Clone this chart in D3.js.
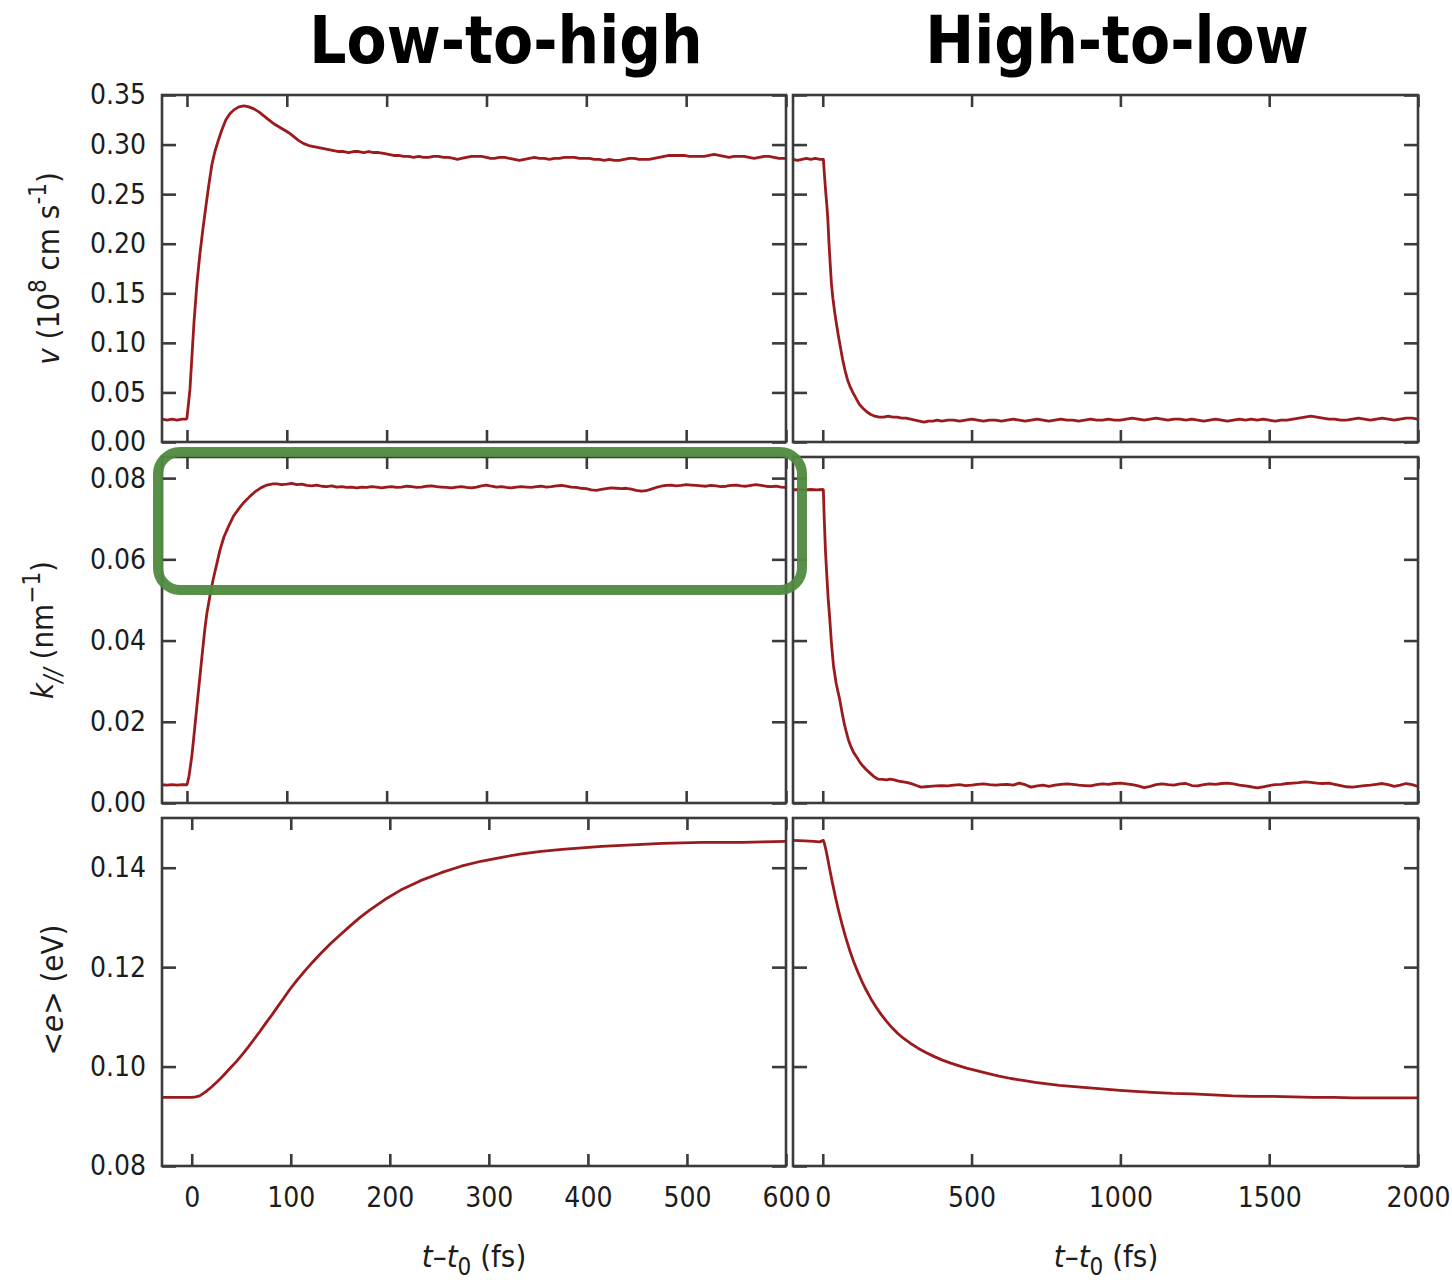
<!DOCTYPE html>
<html>
<head>
<meta charset="utf-8">
<script src="https://cdn.jsdelivr.net/npm/d3@7"></script>
<style>
  html, body { margin: 0; padding: 0; background: #ffffff; }
  svg { display: block; }
  .tick text { font-family: "DejaVu Sans Condensed", "DejaVu Sans", sans-serif; font-stretch: condensed; font-size: 28px; fill: #1c1c1c; }
  .lbl { font-family: "DejaVu Sans Condensed", "DejaVu Sans", sans-serif; font-stretch: condensed; font-size: 31px; fill: #1c1c1c; }
  .ttl { font-family: "DejaVu Sans Condensed", "DejaVu Sans", sans-serif; font-stretch: condensed; font-weight: bold; font-size: 65px; fill: #000; }
</style>
</head>
<body>
<svg id="chart" width="1452" height="1280"></svg>
<script>
// ---------- data: [t (fs), value] ----------
// drift velocity v (10^8 cm/s), field switched low -> high
const vLowHigh = [
  [-25,.023],[-20,.022],[-15,.023],[-10,.022],[-5,.023],[-1,.023],[0,.024],[3,.053],[7,.120],[10,.160],
  [13,.190],[16,.215],[19,.238],[22,.260],[25,.280],[28,.293],[31,.303],[35,.315],[39,.325],[43,.331],
  [47,.335],[52,.338],[57,.339],[62,.338],[67,.336],[72,.333],[77,.329],[82,.325],[87,.321],[92,.318],
  [97,.315],[102,.312],[107,.308],[112,.304],[117,.301],[122,.299],[127,.298],[132,.297],[137,.296],[142,.295],
  [147,.294],[152,.293],[157,.293],[162,.292],[167,.293],[172,.293],[177,.292],[182,.293],[187,.292],[192,.292],
  [197,.291],[202,.290],[207,.289],[212,.289],[217,.288],[222,.288],[227,.287],[232,.288],[237,.287],[242,.287],
  [247,.288],[252,.288],[257,.287],[262,.287],[267,.286],[271,.285],[275,.286],[280,.287],[285,.288],[290,.288],
  [295,.288],[300,.287],[304,.286],[308,.286],[313,.287],[318,.287],[323,.286],[328,.285],[333,.284],[338,.285],
  [343,.286],[348,.287],[353,.286],[358,.286],[363,.285],[368,.286],[373,.286],[378,.287],[383,.287],[388,.287],
  [393,.286],[398,.286],[403,.286],[408,.285],[413,.285],[418,.284],[423,.285],[428,.284],[433,.284],[438,.285],
  [443,.286],[448,.286],[453,.285],[458,.285],[463,.285],[468,.286],[473,.287],[478,.288],[483,.289],[488,.289],
  [493,.289],[498,.289],[503,.288],[508,.288],[513,.288],[518,.288],[523,.289],[528,.290],[533,.289],[538,.288],
  [543,.287],[548,.288],[553,.288],[558,.288],[563,.287],[568,.286],[573,.287],[578,.288],[583,.288],[588,.287],
  [593,.286],[597,.286],[600,.286]
];

// drift velocity v, field switched high -> low
const vHighLow = [
  [-100,.285],[-85,.284],[-70,.285],[-55,.286],[-40,.285],[-25,.286],[-10,.285],[2,.285],[6,.268],[10,.252],
  [14,.238],[17,.225],[21,.200],[25,.180],[29,.160],[34,.145],[40,.131],[45,.121],[52,.108],[59,.096],
  [67,.083],[75,.072],[84,.062],[93,.055],[101,.050],[112,.044],[123,.038],[135,.034],[146,.031],[160,.028],
  [175,.026],[190,.025],[205,.025],[220,.026],[235,.025],[250,.025],[265,.024],[280,.024],[295,.023],[310,.022],
  [325,.021],[340,.020],[355,.021],[370,.021],[385,.022],[400,.021],[420,.022],[440,.022],[460,.021],[480,.022],
  [500,.023],[520,.022],[540,.021],[560,.022],[580,.022],[600,.021],[620,.022],[640,.023],[660,.022],[680,.021],
  [700,.022],[720,.023],[740,.022],[760,.021],[780,.022],[800,.023],[820,.022],[840,.022],[860,.021],[880,.022],
  [900,.023],[920,.022],[940,.022],[960,.023],[980,.022],[1000,.022],[1020,.023],[1040,.024],[1060,.023],[1080,.022],
  [1100,.023],[1120,.024],[1140,.023],[1160,.022],[1180,.023],[1200,.023],[1220,.022],[1240,.023],[1260,.022],[1280,.021],
  [1300,.022],[1320,.023],[1340,.022],[1360,.021],[1380,.022],[1400,.023],[1420,.022],[1440,.023],[1460,.022],[1480,.023],
  [1500,.022],[1520,.021],[1540,.022],[1560,.022],[1580,.023],[1600,.024],[1620,.025],[1640,.026],[1660,.025],[1680,.024],
  [1700,.023],[1720,.023],[1740,.022],[1760,.022],[1780,.023],[1800,.024],[1820,.023],[1840,.022],[1860,.023],[1880,.024],
  [1900,.023],[1920,.022],[1940,.023],[1960,.024],[1980,.024],[2000,.023]
];

// mean parallel wave vector k// (1/nm), low -> high
const kLowHigh = [
  [-25,.0045],[-20,.0044],[-15,.0045],[-10,.0044],[-5,.0045],[0,.0045],[2,.0065],[5,.0118],[8,.0190],[10,.0240],
  [13,.0312],[15,.0360],[18,.0430],[20,.0468],[23,.0510],[26,.0548],[30,.0590],[33,.0622],[37,.0655],[42,.0683],
  [47,.0708],[52,.0725],[57,.0740],[63,.0755],[68,.0766],[74,.0776],[80,.0783],[86,.0786],[90,.0786],[95,.0784],
  [100,.0785],[105,.0787],[110,.0784],[115,.0785],[120,.0782],[125,.0781],[130,.0783],[135,.0780],[140,.0779],[145,.0781],
  [150,.0778],[155,.0779],[160,.0777],[165,.0778],[170,.0776],[175,.0778],[180,.0777],[185,.0779],[190,.0778],[195,.0776],
  [200,.0778],[205,.0779],[210,.0777],[215,.0778],[220,.0780],[225,.0779],[230,.0777],[235,.0778],[240,.0780],[245,.0781],
  [250,.0779],[255,.0778],[260,.0777],[265,.0776],[270,.0778],[275,.0779],[280,.0777],[285,.0776],[290,.0778],[295,.0781],
  [300,.0783],[305,.0780],[310,.0778],[315,.0779],[320,.0777],[325,.0776],[330,.0778],[335,.0779],[340,.0778],[345,.0777],
  [350,.0779],[355,.0780],[360,.0778],[365,.0779],[370,.0781],[375,.0782],[380,.0780],[385,.0778],[390,.0777],[395,.0775],
  [400,.0774],[405,.0771],[410,.0770],[415,.0772],[420,.0774],[425,.0776],[430,.0775],[435,.0774],[440,.0775],[445,.0773],
  [450,.0770],[455,.0768],[460,.0769],[465,.0773],[470,.0777],[475,.0780],[480,.0782],[485,.0783],[490,.0781],[495,.0782],
  [500,.0784],[505,.0783],[510,.0782],[515,.0781],[520,.0780],[525,.0782],[530,.0781],[535,.0779],[540,.0780],[545,.0782],
  [550,.0783],[555,.0781],[560,.0780],[565,.0782],[570,.0784],[575,.0782],[580,.0780],[585,.0779],[590,.0780],[595,.0778],
  [600,.0777]
];

// k//, high -> low
const kHighLow = [
  [-100,.0771],[-80,.0772],[-60,.0771],[-40,.0772],[-20,.0771],[0,.0772],[2,.0771],[5,.0700],[9,.0622],[14,.0555],
  [18,.0505],[23,.0459],[29,.0395],[36,.0338],[45,.0295],[50,.0278],[57,.0255],[65,.0222],[72,.0196],[77,.0181],
  [86,.0156],[95,.0138],[104,.0124],[115,.0112],[125,.0100],[135,.0091],[145,.0083],[160,.0073],[172,.0065],[185,.0059],
  [200,.0058],[215,.0057],[226,.0059],[240,.0057],[255,.0054],[270,.0052],[285,.0050],[300,.0047],[315,.0043],[330,.0039],
  [345,.0040],[360,.0041],[380,.0042],[400,.0043],[420,.0042],[440,.0044],[460,.0045],[480,.0043],[500,.0044],[520,.0046],
  [540,.0047],[560,.0045],[580,.0044],[600,.0045],[620,.0046],[640,.0044],[660,.0049],[680,.0045],[700,.0039],[720,.0042],
  [740,.0044],[760,.0041],[780,.0044],[800,.0046],[820,.0047],[840,.0046],[860,.0044],[880,.0043],[900,.0042],[920,.0045],
  [940,.0047],[960,.0046],[980,.0048],[1000,.0049],[1020,.0047],[1040,.0045],[1060,.0042],[1080,.0038],[1100,.0041],[1120,.0045],
  [1140,.0047],[1160,.0045],[1180,.0044],[1200,.0047],[1220,.0048],[1240,.0043],[1260,.0042],[1280,.0045],[1300,.0047],[1320,.0046],
  [1340,.0048],[1360,.0049],[1380,.0047],[1400,.0044],[1420,.0042],[1440,.0040],[1460,.0037],[1480,.0040],[1500,.0043],[1520,.0045],
  [1540,.0046],[1560,.0048],[1580,.0049],[1600,.0050],[1620,.0052],[1640,.0051],[1660,.0049],[1680,.0048],[1700,.0049],[1720,.0046],
  [1740,.0043],[1760,.0040],[1780,.0039],[1800,.0041],[1820,.0043],[1840,.0044],[1860,.0046],[1880,.0048],[1900,.0045],[1920,.0041],
  [1940,.0044],[1960,.0048],[1980,.0045],[2000,.0041]
];

// mean electron energy <e> (eV), low -> high
const eLowHigh = [
  [-30,.0938],[-15,.0938],[0,.0938],[4,.0939],[8,.0941],[14,.0949],[20,.0959],[26,.0970],[32,.0982],[38,.0995],
  [45,.1010],[51,.1024],[57,.1039],[63,.1055],[69,.1071],[75,.1088],[81,.1104],[87,.1121],[93,.1138],[99,.1155],
  [106,.1173],[114,.1192],[122,.1210],[130,.1227],[140,.1247],[150,.1265],[160,.1283],[170,.1300],[180,.1315],[195,.1336],
  [211,.1355],[231,.1374],[252,.1390],[272,.1403],[292,.1413],[313,.1421],[333,.1428],[353,.1433],[374,.1437],[394,.1440],
  [414,.1443],[434,.1445],[455,.1447],[475,.1449],[495,.1450],[516,.1451],[536,.1451],[556,.1451],[577,.1452],[600,.1453]
];

// <e>, high -> low
const eHighLow = [
  [-100,.1455],[-60,.1454],[-30,.1453],[-10,.1452],[2,.1455],[5,.1450],[9.5,.1439],[16,.1420],[23,.1398],[33,.1368],
  [43,.1340],[53,.1314],[64,.1288],[77,.1260],[91,.1233],[104,.1211],[118,.1190],[131,.1172],[145,.1155],[162,.1136],
  [179,.1120],[196,.1105],[213,.1092],[233,.1078],[253,.1066],[273,.1056],[294,.1047],[320,.1037],[348,.1028],[375,.1020],
  [402,.1013],[430,.1007],[456,.1002],[483,.0997],[510,.0993],[550,.0987],[592,.0981],[632,.0976],[673,.0972],[714,.0968],
  [754,.0965],[795,.0962],[835,.0960],[876,.0958],[917,.0956],[958,.0954],[998,.0952],[1050,.0950],[1106,.0948],[1175,.0946],
  [1242,.0945],[1310,.0943],[1377,.0941],[1445,.0940],[1513,.0940],[1580,.0939],[1648,.0938],[1716,.0938],[1783,.0937],[1850,.0937],
  [1920,.0937],[2000,.0937]
];

// ---------- tick values ----------
const xTicksLeft = [0, 100, 200, 300, 400, 500, 600];
const xTicksRight = [0, 500, 1000, 1500, 2000];
const yTicksV = [0, 0.05, 0.10, 0.15, 0.20, 0.25, 0.30, 0.35];
const yTicksK = [0, 0.02, 0.04, 0.06, 0.08];
const yTicksE = [0.08, 0.10, 0.12, 0.14];

const columnTitles = ["Low-to-high", "High-to-low"];

// ---------- layout ----------
const svg = d3.select("#chart");
const cols = [{ x0: 162, x1: 786 }, { x0: 793, x1: 1418 }];
const rows = [{ y0: 95, y1: 442 }, { y0: 457, y1: 803 }, { y0: 818, y1: 1166 }];

const LINE = "#9b1a1e";
const FRAME = "#3b3b3b";

const panels = [
  { r: 0, c: 0, data: vLowHigh, xd: [-25, 600], yd: [0, 0.35], xt: xTicksLeft, yt: yTicksV },
  { r: 0, c: 1, data: vHighLow, xd: [-100, 2000], yd: [0, 0.35], xt: xTicksRight, yt: yTicksV },
  { r: 1, c: 0, data: kLowHigh, xd: [-25, 600], yd: [0, 0.0852], xt: xTicksLeft, yt: yTicksK },
  { r: 1, c: 1, data: kHighLow, xd: [-100, 2000], yd: [0, 0.0852], xt: xTicksRight, yt: yTicksK },
  { r: 2, c: 0, data: eLowHigh, xd: [-30, 600], yd: [0.08, 0.15], xt: xTicksLeft, yt: yTicksE },
  { r: 2, c: 1, data: eHighLow, xd: [-100, 2000], yd: [0.08, 0.15], xt: xTicksRight, yt: yTicksE }
];

const defs = svg.append("defs");

panels.forEach((p, i) => {
  const C = cols[p.c], R = rows[p.r];
  const x = d3.scaleLinear().domain(p.xd).range([C.x0, C.x1]);
  const y = d3.scaleLinear().domain(p.yd).range([R.y1, R.y0]);
  const g = svg.append("g");

  defs.append("clipPath").attr("id", "clip" + i)
    .append("rect").attr("x", C.x0).attr("y", R.y0)
    .attr("width", C.x1 - C.x0).attr("height", R.y1 - R.y0);

  const fmt = d3.format(".2f");
  const styleAxis = a => {
    a.select(".domain").remove();
    a.selectAll(".tick line").attr("stroke", FRAME).attr("stroke-width", 2.6);
  };

  // left axis (labels only in the first column)
  g.append("g").attr("transform", `translate(${C.x0},0)`)
    .call(d3.axisLeft(y).tickValues(p.yt).tickSizeInner(-14).tickSizeOuter(0).tickPadding(16)
      .tickFormat(p.c === 0 ? fmt : () => ""))
    .call(styleAxis);
  // right axis ticks
  g.append("g").attr("transform", `translate(${C.x1},0)`)
    .call(d3.axisRight(y).tickValues(p.yt).tickSizeInner(-14).tickSizeOuter(0).tickFormat(() => ""))
    .call(styleAxis);
  // bottom axis (labels only in the last row)
  g.append("g").attr("transform", `translate(0,${R.y1})`)
    .call(d3.axisBottom(x).tickValues(p.xt).tickSizeInner(-12).tickSizeOuter(0).tickPadding(21)
      .tickFormat(p.r === 2 ? d3.format("d") : () => ""))
    .call(styleAxis);
  // top axis ticks
  g.append("g").attr("transform", `translate(0,${R.y0})`)
    .call(d3.axisTop(x).tickValues(p.xt).tickSizeInner(-12).tickSizeOuter(0).tickFormat(() => ""))
    .call(styleAxis);

  // curve
  g.append("path").datum(p.data)
    .attr("clip-path", `url(#clip${i})`)
    .attr("fill", "none").attr("stroke", LINE).attr("stroke-width", 2.8)
    .attr("stroke-linejoin", "round")
    .attr("d", d3.line().x(d => x(d[0])).y(d => y(d[1])));

  // frame
  g.append("rect").attr("x", C.x0).attr("y", R.y0)
    .attr("width", C.x1 - C.x0).attr("height", R.y1 - R.y0)
    .attr("fill", "none").attr("stroke", FRAME).attr("stroke-width", 2.6);
});

// ---------- text with italics / super- and subscripts ----------
function richText(parent, parts, attrs) {
  const t = parent.append("text").attr("class", "lbl");
  Object.entries(attrs).forEach(([k, v]) => t.attr(k, v));
  let off = 0;
  parts.forEach(pt => {
    const target = pt.sup ? -13 : pt.sub ? 8 : 0;
    const s = t.append("tspan").text(pt.t).attr("dy", target - off);
    if (pt.it) s.attr("font-style", "italic");
    if (pt.sup || pt.sub) s.attr("font-size", "24px");
    off = target;
  });
  return t;
}

// y-axis titles
richText(svg, [
  { t: "v", it: true }, { t: " (10" }, { t: "8", sup: true }, { t: " cm s" }, { t: "-1", sup: true }, { t: ")" }
], { transform: "translate(59,268.5) rotate(-90)", "text-anchor": "middle" });

richText(svg, [
  { t: "k", it: true }, { t: "//", it: true, sub: true }, { t: " (nm" }, { t: "\u22121", sup: true }, { t: ")" }
], { transform: "translate(53,630) rotate(-90)", "text-anchor": "middle" });

richText(svg, [
  { t: "<" }, { t: "e", it: true }, { t: "> (eV)" }
], { transform: "translate(63,990) rotate(-90)", "text-anchor": "middle" });

// x-axis titles
[474, 1106].forEach(cx => {
  richText(svg, [
    { t: "t", it: true }, { t: "\u2013" }, { t: "t", it: true }, { t: "0", sub: true }, { t: " (fs)" }
  ], { x: cx, y: 1267, "text-anchor": "middle" });
});

// column titles
svg.selectAll("text.ttl").data(columnTitles).join("text")
  .attr("class", "ttl")
  .attr("x", (d, i) => [506, 1117][i])
  .attr("y", 63)
  .attr("text-anchor", "middle")
  .text(d => d);

// highlight box around the k// plateau
svg.append("rect")
  .attr("x", 158).attr("y", 452).attr("width", 644).attr("height", 138)
  .attr("rx", 22).attr("ry", 22)
  .attr("fill", "none").attr("stroke", "#4f8a3f").attr("stroke-width", 10)
  .attr("opacity", 0.95);
</script>
</body>
</html>
